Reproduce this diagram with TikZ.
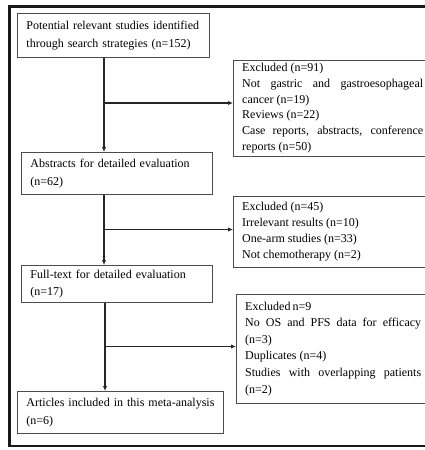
\documentclass[tikz,border=0pt]{standalone}
\usepackage{fontspec}
\setmainfont{Liberation Serif}
\usetikzlibrary{arrows.meta}
\tolerance=9999
\begin{document}
\begin{tikzpicture}[x=1pt,y=-1pt,
  lbox/.style={draw=black!70, line width=0.9pt, anchor=north west, inner xsep=9pt, inner ysep=0pt,
    align=left, font=\fontsize{12}{17.5}\selectfont},
  rbox/.style={anchor=north west, inner xsep=9pt, inner ysep=0pt,
    align=justify, font=\fontsize{12}{15.8}\selectfont},
  rframe/.style={draw=black!70, line width=0.9pt},
  conn/.style={line width=1.4pt, black!85},
  arr/.style={conn, -{Latex[length=5pt,width=4.5pt]}},
  frame/.style={line width=2.6pt, black!90}]
\clip (0,0) rectangle (425,450);
\fill[white] (0,0) rectangle (425,450);
\draw[frame] (480,6.5) -- (9.5,6.5) -- (9.5,446) -- (480,446);
\coordinate (rx) at (480,0);

\node[lbox, minimum width=192pt, minimum height=44pt, text width=174pt] (b1) at (17,13)
  {Potential relevant studies identified\\through search strategies (n=152)};
\node[lbox, minimum width=191pt, minimum height=42pt, text width=173pt] (b2) at (21,152)
  {Abstracts for detailed evaluation\\(n=62)};
\node[lbox, minimum width=191pt, minimum height=37pt, text width=173pt, font=\fontsize{12}{16.5}\selectfont] (b3) at (21,265)
  {Full-text for detailed evaluation\\(n=17)};
\node[lbox, minimum width=206pt, minimum height=42pt, text width=188pt] (b4) at (17,391)
  {Articles included in this meta-analysis\\(n=6)};

\node[rbox, minimum height=96pt, text width=181pt] (r1) at (233,60)
  {Excluded (n=91)\\Not gastric and gastroesophageal \mbox{cancer} (n=19)\\Reviews (n=22)\\Case reports, abstracts, conference \mbox{reports} (n=50)};
\draw[rframe] (r1.north west) rectangle (r1.south -| rx);
\node[rbox, minimum height=71pt, text width=181pt] (r2) at (233,196)
  {Excluded (n=45)\\Irrelevant results (n=10)\\One-arm studies (n=33)\\Not chemotherapy (n=2)};
\draw[rframe] (r2.north west) rectangle (r2.south -| rx);
\node[rbox, minimum height=109pt, text width=176pt, font=\fontsize{12}{16.6}\selectfont] (r3) at (236,294)
  {Excluded\,n=9\\No OS and PFS data for efficacy (n=3)\\Duplicates (n=4)\\Studies with overlapping patients (n=2)};
\draw[rframe] (r3.north west) rectangle (r3.south -| rx);

\coordinate (j1) at (104,103);
\coordinate (j2) at (104,229.5);
\coordinate (j3) at (105,346.5);

\draw[arr] (b1.south -| j1) -- (b2.north -| j1);
\draw[arr] (j1) -- (j1 -| r1.west);
\draw[arr] (b2.south -| j2) -- (b3.north -| j2);
\draw[arr] (j2) -- (j2 -| r2.west);
\draw[arr] (b3.south -| j3) -- (b4.north -| j3);
\draw[arr] (j3) -- (j3 -| r3.west);
\end{tikzpicture}
\end{document}
